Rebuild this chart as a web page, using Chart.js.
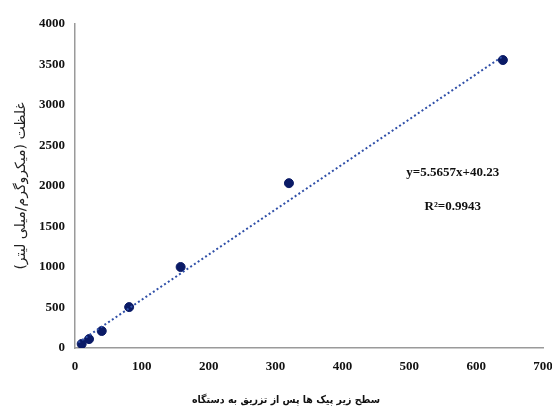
<!DOCTYPE html>
<html>
<head>
<meta charset="utf-8">
<script src="https://cdn.jsdelivr.net/npm/chart.js@4.4.0/dist/chart.umd.min.js"></script>
<style>
  html, body { margin: 0; padding: 0; background: #fff; }
  #wrap { width: 552px; height: 410px; }
</style>
</head>
<body>
<div id="wrap"><canvas id="myChart"></canvas></div>
<script>
// valores
const areas = [10, 21, 40, 81, 158, 320, 640]
const concentraciones = [50, 110, 210, 505, 1000, 2035, 3555]
const xTicks = [0, 100, 200, 300, 400, 500, 600, 700]
const yTicks = [0, 500, 1000, 1500, 2000, 2500, 3000, 3500, 4000]

// linea de tendencia (ecuacion del grafico)
const pendiente = 5.5657
const intercepto = 40.23
const rango = [5, 640]
const ecuacion = 'y=5.5657x+40.23'
const r2 = 'R²=0.9943'
const tituloX = 'سطح زیر پیک ها پس از تزریق به دستگاه'
const tituloY = 'غلظت (میکروگرم/میلی لیتر)'

const puntos = areas.map((x, i) => ({ x: x, y: concentraciones[i] }))
const tendencia = rango.map(x => ({ x: x, y: pendiente * x + intercepto }))

const textos = {
  id: 'textos',
  afterDraw(chart) {
    const c = chart.ctx
    const sx = chart.scales.x
    const sy = chart.scales.y
    c.save()
    c.fillStyle = '#111'
    c.font = 'bold 13px "Liberation Serif"'
    c.textAlign = 'center'
    c.textBaseline = 'middle'
    c.fillText(ecuacion, sx.getPixelForValue(565), sy.getPixelForValue(2160))
    c.fillText(r2, sx.getPixelForValue(565), sy.getPixelForValue(1740))
    // titulo del eje x
    c.font = 'bold 10.5px "DejaVu Sans Condensed", "DejaVu Sans"'
    c.fillText(tituloX, 286, 400)
    c.restore()
  }
}

const ctx = document.getElementById('myChart');
new Chart(ctx, {
  type: 'scatter',
  data: {
    datasets: [{
      label: 'tendencia',
      type: 'line',
      data: tendencia,
      borderColor: '#2f4fa8',
      borderWidth: 2,
      borderDash: [2, 2.5],
      pointRadius: 0,
      fill: false
    }, {
      label: 'datos',
      data: puntos,
      backgroundColor: '#0a1a66',
      borderColor: '#0a1a66',
      pointRadius: 4.5
    }]
  },
  options: {
    responsive: true,
    maintainAspectRatio: false,
    animation: false,
    layout: { padding: { left: 8, right: 0, top: 24, bottom: 0 } },
    plugins: {
      legend: { display: false },
      tooltip: { enabled: false }
    },
    scales: {
      x: {
        type: 'linear',
        min: 0,
        max: 700,
        afterBuildTicks: s => { s.ticks = xTicks.map(v => ({ value: v })) },
        afterFit: s => { s.height = 62; s.paddingRight = 9 },
        grid: { display: false },
        border: { display: true, color: '#9a9a9a', width: 1.5 },
        ticks: {
          padding: 3,
          color: '#111',
          callback: v => String(v),
          font: { family: 'Liberation Serif', size: 13, weight: 'bold' }
        }
      },
      y: {
        min: 0,
        max: 4000,
        afterBuildTicks: s => { s.ticks = yTicks.map(v => ({ value: v })) },
        afterFit: s => { s.width = 67 },
        grid: { display: false },
        border: { display: true, color: '#9a9a9a', width: 1.5 },
        ticks: {
          padding: 2,
          color: '#111',
          callback: v => String(v),
          font: { family: 'Liberation Serif', size: 13, weight: 'bold' }
        },
        title: {
          display: true,
          text: tituloY,
          color: '#222',
          font: { family: 'DejaVu Sans', size: 14 },
          padding: { top: 5, bottom: 0 }
        }
      }
    }
  },
  plugins: [textos]
});
</script>
</body>
</html>
